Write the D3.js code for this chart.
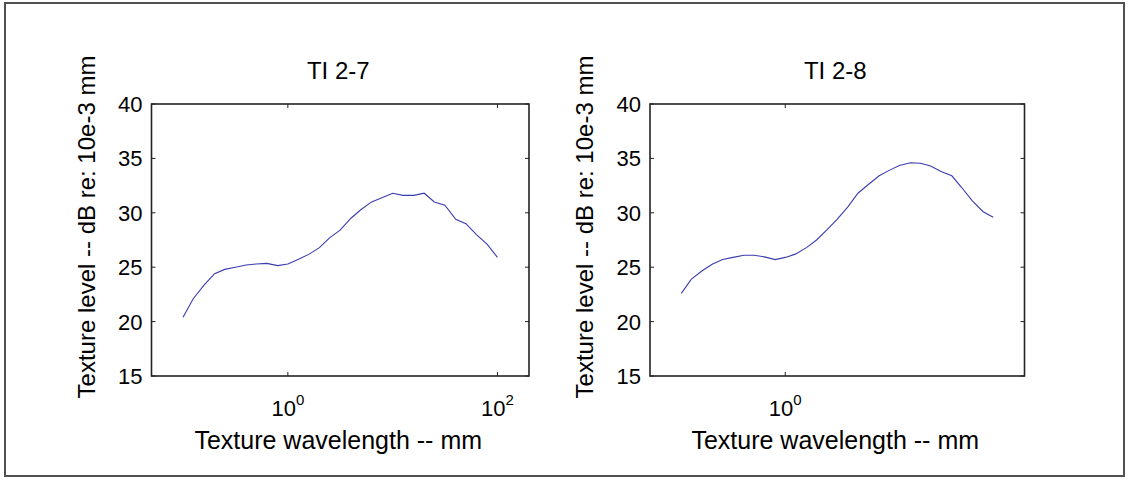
<!DOCTYPE html>
<html><head><meta charset="utf-8">
<script src="https://cdn.jsdelivr.net/npm/d3@7"></script>
<style>
html,body{margin:0;padding:0;background:#fff;}
svg{display:block;font-family:"Liberation Sans",Arial,Helvetica,sans-serif;}
</style></head>
<body><svg id="c" width="1129" height="479"></svg>
<script>
// Third-octave texture wavelengths (mm)
const wavelengths = [0.1,0.125,0.16,0.2,0.25,0.315,0.4,0.5,0.63,0.8,1,1.25,1.6,2,2.5,3.15,4,5,6.3,8,10,12.5,16,20,25,31.5,40,50,63,80,100];
const levelsTI27 = [20.4,22.1,23.4,24.4,24.8,25.0,25.2,25.3,25.35,25.15,25.3,25.7,26.2,26.8,27.7,28.4,29.5,30.3,31.0,31.4,31.8,31.6,31.6,31.8,31.0,30.7,29.4,29.0,28.0,27.1,25.9];
const levelsTI28 = [22.6,23.9,24.7,25.3,25.7,25.9,26.1,26.1,25.95,25.7,25.9,26.2,26.8,27.5,28.4,29.4,30.55,31.8,32.6,33.4,33.9,34.35,34.6,34.55,34.3,33.8,33.4,32.3,31.1,30.1,29.6];
const titles = ["TI 2-7","TI 2-8"];
const yTicks = [15,20,25,30,35,40];
const xTicksLeft = [1,100];
const xTicksRight = [1];
const xDomain = [0.05,200];
const yDomain = [15,40];
const xLabel = "Texture wavelength -- mm";
const yLabel = "Texture level -- dB re: 10e-3 mm";

(function(){
const svg = d3.select("#c");
svg.append("rect").attr("x",5).attr("y",3).attr("width",1119).attr("height",473)
  .attr("fill","none").attr("stroke","#505050").attr("stroke-width",2);

const panels = [
  {left:151.5, right:529, title:titles[0], data:levelsTI27, xt:xTicksLeft},
  {left:650, right:1024.5, title:titles[1], data:levelsTI28, xt:xTicksRight}
];
const axTop = 104, axBottom = 376;
const tickFont = 22, labFont = 24, titleFont = 24;

panels.forEach(p => {
  const x = d3.scaleLog().domain(xDomain).range([p.left,p.right]);
  const y = d3.scaleLinear().domain(yDomain).range([axBottom,axTop]);
  const g = svg.append("g");
  const tl = 4;
  yTicks.forEach(v => {
    g.append("line").attr("x1",p.left).attr("x2",p.left+tl).attr("y1",y(v)).attr("y2",y(v)).attr("stroke","#222");
    g.append("line").attr("x1",p.right).attr("x2",p.right-tl).attr("y1",y(v)).attr("y2",y(v)).attr("stroke","#222");
    g.append("text").attr("x",p.left-9).attr("y",y(v)).attr("dy","0.36em")
      .attr("text-anchor","end").attr("font-size",tickFont).attr("fill","#000").text(v);
  });
  p.xt.forEach(v => {
    g.append("line").attr("x1",x(v)).attr("x2",x(v)).attr("y1",axBottom).attr("y2",axBottom-tl).attr("stroke","#222");
    g.append("line").attr("x1",x(v)).attr("x2",x(v)).attr("y1",axTop).attr("y2",axTop+tl).attr("stroke","#222");
    const t = g.append("text").attr("x",x(v)).attr("y",416).attr("text-anchor","middle")
      .attr("font-size",tickFont).attr("fill","#000");
    t.append("tspan").text("10");
    t.append("tspan").attr("font-size",15).attr("dy",-11).text(Math.round(Math.log10(v)));
  });
  g.append("rect").attr("x",p.left).attr("y",axTop).attr("width",p.right-p.left).attr("height",axBottom-axTop)
    .attr("fill","none").attr("stroke","#222").attr("stroke-width",1.6);
  const line = d3.line().x((d,i)=>x(wavelengths[i])).y(d=>y(d));
  g.append("path").datum(p.data).attr("d",line).attr("fill","none")
    .attr("stroke","#3b3bb0").attr("stroke-width",1.1);
  const cx = (p.left+p.right)/2;
  g.append("text").attr("x",cx-2).attr("y",79).attr("text-anchor","middle")
    .attr("font-size",titleFont).attr("fill","#000").text(p.title);
  g.append("text").attr("x",cx-2).attr("y",449).attr("text-anchor","middle")
    .attr("font-size",labFont+1).attr("fill","#000").text(xLabel);
  g.append("text").attr("transform",`translate(${p.left-57},227) rotate(-90)`)
    .attr("text-anchor","middle").attr("font-size",labFont).attr("fill","#000").text(yLabel);
});
})();
</script></body></html>
